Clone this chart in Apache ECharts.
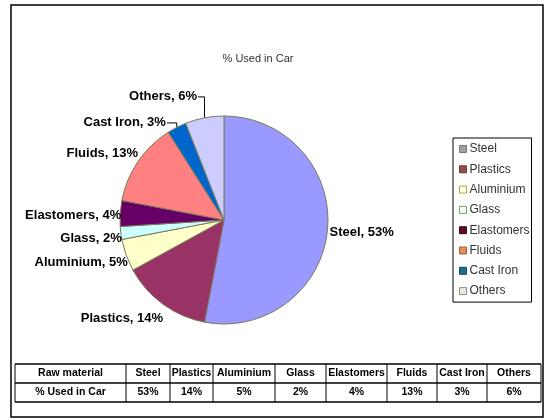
<!DOCTYPE html>
<html>
<head>
<meta charset="utf-8">
<script src="https://cdn.jsdelivr.net/npm/echarts@6/dist/echarts.min.js"></script>
<style>
  html, body { margin: 0; padding: 0; background: #fff; }
  #chart { width: 548px; height: 420px; }
</style>
</head>
<body>
<div id="chart"></div>
<script>
// data
var materials = ['Steel', 'Plastics', 'Aluminium', 'Glass', 'Elastomers', 'Fluids', 'Cast Iron', 'Others'];
var percentUsed = [53, 14, 5, 2, 4, 13, 3, 6];
var tableHeader = ['Raw material', '% Used in Car'];

// slice colours (excel classic palette) and the odd legend swatches
var sliceColors = ['#9999ff', '#993366', '#ffffcc', '#ccffff', '#660066', '#ff8080', '#0066cc', '#ccccff'];
var legendColors = ['#a0a0a0', '#8f5048', '#ffffe8', '#f0fff0', '#5a1020', '#e09060', '#206a8a', '#e8e8e0'];
var legendBorders = ['#777', '#6a3a30', '#b0a840', '#80a070', '#400818', '#a06030', '#104a60', '#909080'];

// label nudges so they sit like the excel ones
var labelShift = {
    'Steel': [-9, 2],
    'Plastics': [10, 12],
    'Aluminium': [8, 6],
    'Glass': [7, 5],
    'Elastomers': [7, 2],
    'Fluids': [6, -6],
    'Cast Iron': [4, -7],
    'Others': [1, -18]
};
var leaderLines = ['Cast Iron', 'Others'];

var myChart = echarts.init(document.getElementById('chart'), null, {renderer: 'canvas'});

var pieData = materials.map(function(name, i){
    return {
        name: name,
        value: percentUsed[i],
        itemStyle: { color: sliceColors[i] },
        labelLine: { show: leaderLines.indexOf(name) >= 0 }
    };
});

// table cells
var colEdges = [15, 126, 170, 213, 275, 326, 387, 437, 487, 541];
var rowEdges = [364, 383, 402];
var tableEls = [];
var rowsText = [
    [tableHeader[0]].concat(materials),
    [tableHeader[1]].concat(percentUsed.map(function(v){ return v + '%'; }))
];
rowsText.forEach(function(row, r){
    row.forEach(function(txt, c){
        tableEls.push({
            type: 'text',
            x: (colEdges[c] + colEdges[c + 1]) / 2,
            y: (rowEdges[r] + rowEdges[r + 1]) / 2,
            style: {
                text: txt,
                fill: '#000',
                font: 'bold 10.5px "Liberation Sans", Arial, sans-serif',
                align: 'center',
                verticalAlign: 'middle'
            }
        });
    });
});
rowEdges.forEach(function(y){
    tableEls.push({
        type: 'line',
        shape: {x1: colEdges[0], y1: y, x2: colEdges[colEdges.length - 1], y2: y},
        style: {stroke: '#000', lineWidth: 1.5}
    });
});
colEdges.forEach(function(x){
    tableEls.push({
        type: 'line',
        shape: {x1: x, y1: rowEdges[0], x2: x, y2: rowEdges[rowEdges.length - 1]},
        style: {stroke: '#000', lineWidth: 1}
    });
});

var option = {
    backgroundColor: '#fff',
    animation: false,
    title: {
        text: '% Used in Car',
        left: 253,
        top: 48,
        textAlign: 'center',
        textStyle: {
            fontSize: 11,
            fontWeight: 'normal',
            color: '#333',
            fontFamily: '"Liberation Sans", Arial, sans-serif'
        }
    },
    legend: {
        orient: 'vertical',
        left: 453,
        top: 138,
        width: 78,
        padding: [5, 2, 5, 6],
        itemGap: 8.3,
        itemWidth: 7,
        itemHeight: 7,
        borderColor: '#000',
        borderWidth: 1,
        icon: 'rect',
        textStyle: {
            fontSize: 12,
            color: '#333',
            padding: [0, 0, 0, -2],
            fontFamily: '"Liberation Sans", Arial, sans-serif'
        },
        data: materials.map(function(name, i){
            return {
                name: name,
                itemStyle: { color: legendColors[i], borderColor: legendBorders[i], borderWidth: 1 }
            };
        })
    },
    series: [
        {
            name: '% Used in Car',
            type: 'pie',
            center: [224, 220],
            radius: 104,
            startAngle: 90,
            clockwise: true,
            data: pieData,
            itemStyle: {
                borderColor: '#7a7a5a',
                borderWidth: 1
            },
            label: {
                show: true,
                formatter: '{b}, {c}%',
                color: '#000',
                fontSize: 13,
                fontWeight: 'bold',
                fontFamily: '"Liberation Sans", Arial, sans-serif'
            },
            labelLine: {
                show: true,
                length: 3,
                length2: 3,
                lineStyle: { color: '#000', width: 1 }
            },
            labelLayout: function(params){
                var name = materials[params.dataIndex];
                var s = labelShift[name] || [0, 0];
                var res = {dx: s[0], dy: s[1]};
                if (leaderLines.indexOf(name) >= 0 && params.labelLinePoints) {
                    // elbow line: from slice edge straight up, then across to the label end
                    var r = params.labelRect;
                    var cy = r.y + r.height / 2 + s[1];
                    var endX = r.x + r.width + s[0] + 1;
                    var p0 = params.labelLinePoints[0];
                    res.labelLinePoints = [[p0[0], p0[1]], [p0[0], cy], [endX, cy]];
                }
                return res;
            }
        }
    ],
    graphic: [
        {
            type: 'rect',
            shape: {x: 11, y: 5, width: 532, height: 412},
            style: {fill: 'none', stroke: '#000', lineWidth: 1.5},
            silent: true
        },
        {
            type: 'group',
            children: tableEls
        }
    ]
};

myChart.setOption(option);
</script>
</body>
</html>
